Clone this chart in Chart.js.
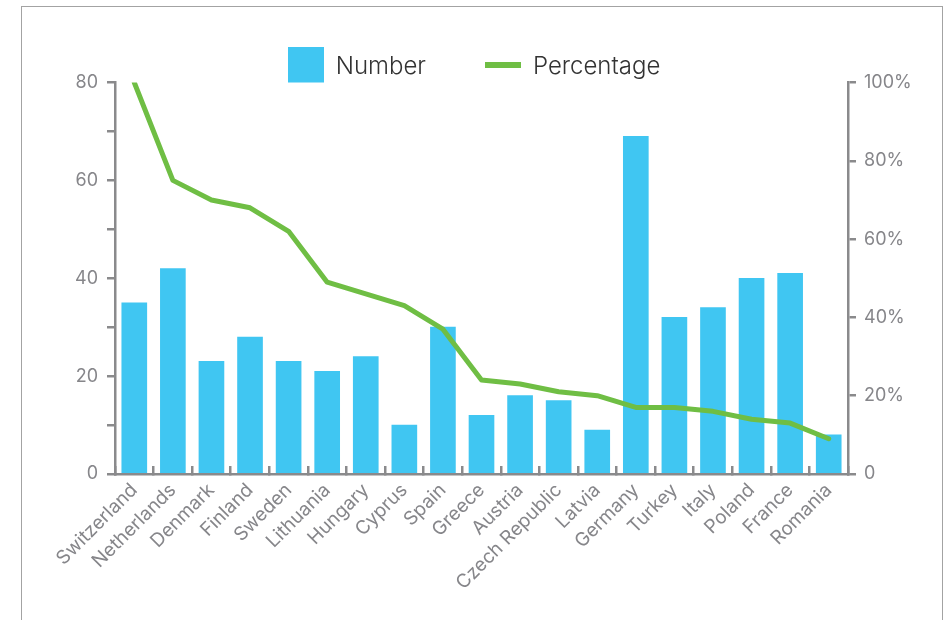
<!DOCTYPE html>
<html>
<head>
<meta charset="utf-8">
<script src="https://cdn.jsdelivr.net/npm/chart.js@4.4.1/dist/chart.umd.min.js"></script>
<style>
  html, body { margin: 0; padding: 0; background: #fff; }
  .wrap { position: absolute; left: 0; top: 0; width: 948px; height: 620px; overflow: hidden; }
  .frame { position: absolute; left: 21px; top: 6px; width: 920px; height: 700px; border: 1px solid #a3a3a3; }
  #chart { position: absolute; left: 0; top: 0; }
</style>
</head>
<body>
<div class="wrap">
  <div class="frame"></div>
  <canvas id="chart" width="948" height="620"></canvas>
</div>
<script>
const countries = [
    "Switzerland", "Netherlands", "Denmark", "Finland", "Sweden", "Lithuania",
    "Hungary", "Cyprus", "Spain", "Greece", "Austria", "Czech Republic",
    "Latvia", "Germany", "Turkey", "Italy", "Poland", "France", "Romania",
];
const numbers = [35, 42, 23, 28, 23, 21, 24, 10, 30, 12, 16, 15, 9, 69, 32, 34, 40, 41, 8];
const percentages = [100, 75, 70, 68, 62, 49, 46, 43, 37, 24, 23, 21, 20, 17, 17, 16, 14, 13, 9];

const BLUE = "#40c6f2";
const GREEN = "#6fbe44";
const AXIS = "#8a8a8c";
const TICK_TEXT = "#86868a";

// legend markers drawn into small canvases; the fill is placed off-centre
// (offsetY) so the marker sits where it should next to the label text
function makeMark(w, h, fillH, offsetY, color) {
    const c = document.createElement("canvas");
    c.width = w;
    c.height = h;
    const g = c.getContext("2d");
    g.fillStyle = color;
    g.fillRect(0, offsetY, w, fillH);
    return c;
}
const barMark = makeMark(36, 40, 36, 0, BLUE);
const lineMark = makeMark(36, 10, 6, 0, GREEN);

// fixed legend height so the plot area starts at the 80 / 100% line
const fixedLayout = {
    id: "fixedLayout",
    beforeInit(chart) {
        const fit = chart.legend.fit;
        chart.legend.fit = function () {
            fit.call(this);
            this.height = 86.5;
        };
    },
};

const axisGrid = {
    drawOnChartArea: false,
    color: AXIS,
    lineWidth: 2.5,
    tickLength: 8,
};
const yFont = { family: "Inter", size: 18 };
const xFont = { family: "Inter", size: 19 };

new Chart(document.getElementById("chart"), {
    type: "bar",
    data: {
        labels: countries,
        datasets: [
            {
                label: "Number",
                data: numbers,
                backgroundColor: BLUE,
                barThickness: 25,
                yAxisID: "y",
                order: 1,
            },
            {
                type: "line",
                label: "Percentage",
                data: percentages,
                borderColor: GREEN,
                backgroundColor: GREEN,
                borderWidth: 5,
                borderCapStyle: "round",
                borderJoinStyle: "round",
                pointRadius: 0,
                tension: 0,
                yAxisID: "y1",
                order: 0,
            },
        ],
    },
    options: {
        responsive: false,
        animation: false,
        layout: { padding: { top: -4, left: 0, right: 0, bottom: 0 } },
        plugins: {
            tooltip: { enabled: false },
            legend: {
                position: "top",
                labels: {
                    usePointStyle: true,
                    pointStyleWidth: 36,
                    padding: 59,
                    color: "#333",
                    font: { family: "Inter", size: 24, weight: 300 },
                    generateLabels: chart => chart.data.datasets.map((ds, i) => ({
                        text: ds.label,
                        datasetIndex: i,
                        pointStyle: i === 0 ? barMark : lineMark,
                        fontColor: "#333",
                        hidden: false,
                        lineWidth: 0,
                    })),
                },
            },
        },
        scales: {
            x: {
                grid: { drawOnChartArea: false, color: AXIS, lineWidth: 2.5, tickLength: -8, offset: true },
                border: { color: AXIS, width: 2.5 },
                ticks: {
                    color: TICK_TEXT,
                    font: xFont,
                    autoSkip: false,
                    maxRotation: 45,
                    minRotation: 45,
                    padding: 13,
                },
                afterFit: s => { s.height = 146; },
            },
            y: {
                position: "left",
                min: 0,
                max: 80,
                grid: axisGrid,
                border: { color: AXIS, width: 2.5 },
                ticks: {
                    stepSize: 10,
                    color: TICK_TEXT,
                    font: yFont,
                    padding: 9,
                    callback: v => (v % 20 === 0 ? String(v) : ""),
                },
                afterFit: s => { s.width = 115; },
            },
            y1: {
                position: "right",
                min: 0,
                max: 100,
                grid: axisGrid,
                border: { color: AXIS, width: 2.5 },
                ticks: {
                    stepSize: 20,
                    color: TICK_TEXT,
                    font: yFont,
                    padding: 8,
                    callback: v => (v === 0 ? "0" : v + "%"),
                },
                afterFit: s => { s.width = 100; },
            },
        },
    },
    plugins: [fixedLayout],
});
</script>
</body>
</html>
